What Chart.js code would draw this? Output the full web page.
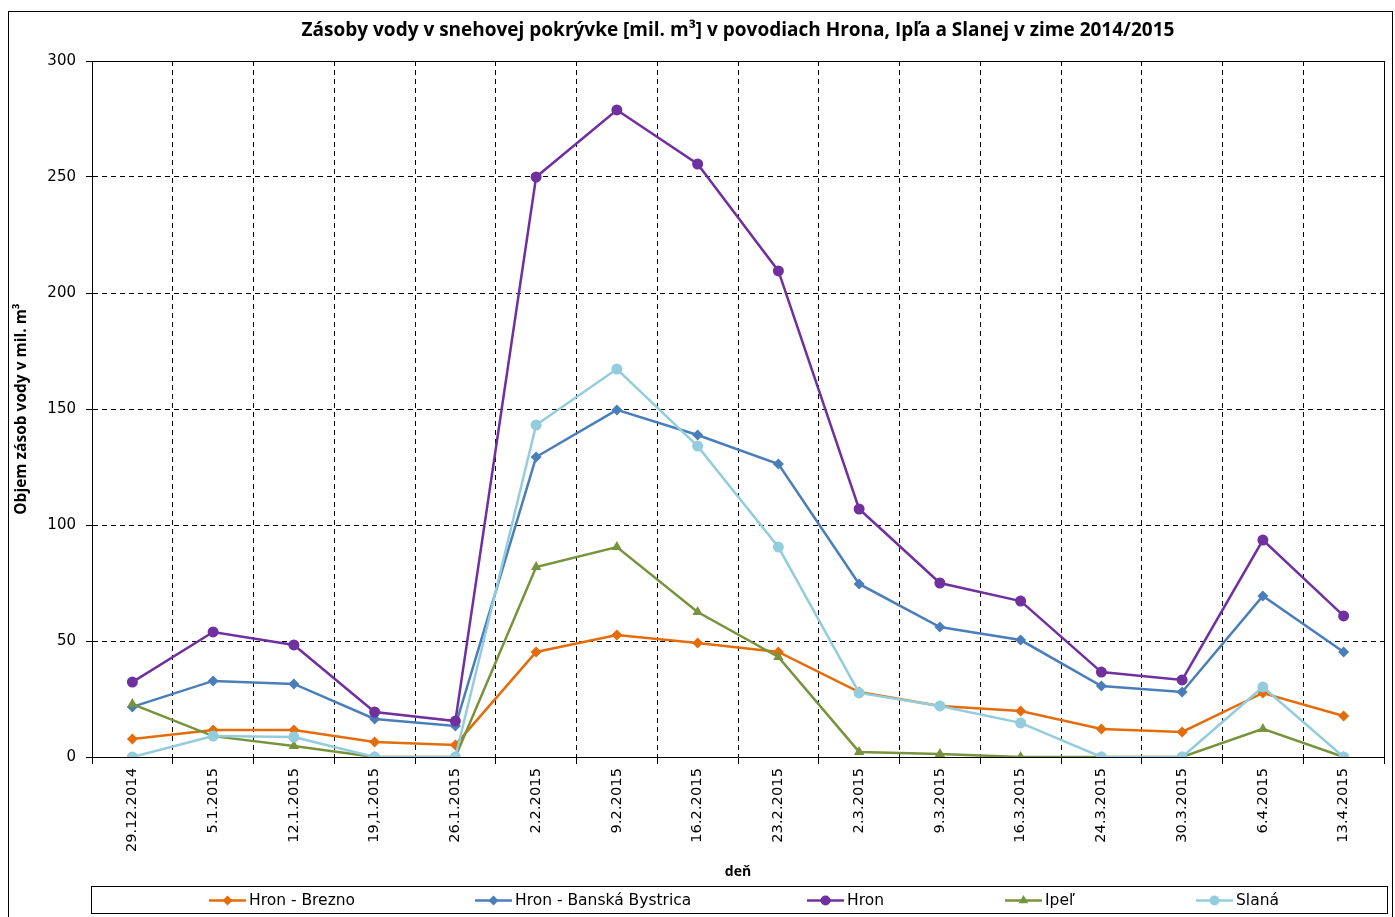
<!DOCTYPE html>
<html><head><meta charset="utf-8">
<script src="https://cdn.jsdelivr.net/npm/chart.js@4/dist/chart.umd.min.js"></script>
<style>html,body{margin:0;padding:0;background:#fff;overflow:hidden}#wrap{width:1395px;height:917px;position:relative}</style>
</head><body><div id="wrap"><canvas id="c" width="1395" height="917"></canvas></div>
<script>
const categories = ['29.12.2014','5.1.2015','12.1.2015','19,1.2015','26.1.2015','2.2.2015','9.2.2015','16.2.2015','23.2.2015','2.3.2015','9.3.2015','16.3.2015','24.3.2015','30.3.2015','6.4.2015','13.4.2015'];
const hronBrezno = [7.8, 11.6, 11.6, 6.5, 5.2, 45.3, 52.6, 49.1, 45.3, 28.0, 22.0, 19.8, 12.1, 10.8, 27.6, 17.7];
const hronBB     = [21.6, 32.8, 31.5, 16.4, 13.4, 129.3, 149.6, 138.8, 126.3, 74.6, 56.0, 50.4, 30.6, 28.0, 69.4, 45.3];
const hron       = [32.3, 53.9, 48.3, 19.4, 15.5, 250.0, 278.9, 255.6, 209.5, 106.9, 75.0, 67.2, 36.6, 33.2, 93.5, 60.8];
const ipel       = [22.8, 9.0, 4.7, 0, 0, 81.9, 90.5, 62.5, 43.1, 2.2, 1.3, 0, 0, 0, 12.1, 0];
const slana      = [0, 9.0, 8.6, 0, 0, 143.1, 167.2, 134.0, 90.5, 27.6, 22.0, 14.7, 0, 0, 30.2, 0];
const seriesNames = ['Hron - Brezno','Hron - Banská Bystrica','Hron','Ipeľ','Slaná'];
const yTicks = [0, 50, 100, 150, 200, 250, 300];

const colors = ['#E46C0A','#4A7EBB','#7030A0','#77933C','#93CDDD'];
const styles = ['rectRot','rectRot','circle','triangle','circle'];
const radii = [5.5, 5.5, 5.5, 6, 5.5];
const seriesData = [hronBrezno, hronBB, hron, ipel, slana];
const legendX = [209, 475, 807, 1005, 1196];

const datasets = seriesData.map((d,i)=>({
  label: seriesNames[i], data: d,
  borderColor: colors[i], backgroundColor: colors[i],
  pointBackgroundColor: colors[i], pointBorderColor: colors[i],
  pointStyle: styles[i], pointRadius: radii[i], pointBorderWidth: 0,
  borderWidth: 2.5, tension: 0, order: 5 - i
}));

const decor = {
  id: 'decor',
  beforeDraw(chart){
    const ctx = chart.ctx;
    ctx.save();
    ctx.fillStyle = '#fff'; ctx.fillRect(0,0,chart.width,chart.height);
    ctx.strokeStyle = '#000'; ctx.lineWidth = 1;
    ctx.strokeRect(8.5, 11.5, 1384, 920);
    ctx.restore();
  },
  afterLayout(chart){
    const a = chart.chartArea;
    if (chart.titleBlock){ chart.titleBlock.left = a.left; chart.titleBlock.right = a.right; }
  },
  beforeDatasetsDraw(chart){
    const ctx = chart.ctx, a = chart.chartArea;
    ctx.save();
    ctx.strokeStyle = '#000'; ctx.lineWidth = 1; ctx.setLineDash([]);
    ctx.beginPath();
    ctx.moveTo(Math.round(a.left)+0.5, Math.round(a.top)+0.5);
    ctx.lineTo(Math.round(a.right)+0.5, Math.round(a.top)+0.5);
    ctx.lineTo(Math.round(a.right)+0.5, Math.round(a.bottom)+0.5);
    ctx.stroke();
    ctx.restore();
  },
  afterDraw(chart){
    const ctx = chart.ctx;
    ctx.save();
    ctx.strokeStyle = '#000'; ctx.lineWidth = 1; ctx.setLineDash([]);
    ctx.strokeRect(91.5, 886.5, 1296, 27);
    const cy = 900.5;
    chart.data.datasets.forEach((ds,i)=>{
      const x0 = legendX[i];
      ctx.strokeStyle = ds.borderColor; ctx.lineWidth = 2.5;
      ctx.beginPath(); ctx.moveTo(x0, cy); ctx.lineTo(x0+37, cy); ctx.stroke();
      ctx.fillStyle = ds.pointBackgroundColor; ctx.strokeStyle = ds.pointBorderColor;
      Chart.helpers.drawPoint(ctx, {pointStyle: ds.pointStyle, radius: ds.pointRadius-0.5, rotation: 0, borderWidth: 0}, x0+18.5, cy);
      ctx.fillStyle = '#000';
      ctx.font = '15.5px "DejaVu Sans"';
      ctx.textBaseline = 'middle'; ctx.textAlign = 'left';
      ctx.fillText(ds.label, x0+40, cy);
    });
    ctx.restore();
  }
};

new Chart(document.getElementById('c'), {
  type: 'line',
  data: { labels: categories, datasets },
  plugins: [decor],
  options: {
    responsive: false, animation: false, devicePixelRatio: 1,
    layout: { padding: { left: 0, right: 11, top: 12, bottom: 31 } },
    plugins: {
      legend: { display: false },
      tooltip: { enabled: false },
      title: {
        display: true,
        text: 'Zásoby vody v snehovej pokrývke [mil. m³] v povodiach Hrona, Ipľa a Slanej v zime 2014/2015',
        color: '#000', font: { family: '"Open Sans"', size: 19, weight: 'bold', lineHeight: 1.2 },
        padding: { top: 7.6, bottom: 18.6 }
      }
    },
    scales: {
      x: {
        type: 'category', offset: true,
        grid: { offset: true, color: '#000', lineWidth: 1, drawTicks: true, tickLength: 7, tickColor: '#000', tickBorderDash: [] },
        border: { display: true, color: '#000', width: 1, dash: [5,4] },
        ticks: { autoSkip: false, maxRotation: 90, minRotation: 90, padding: 4, color: '#000', font: { family: '"DejaVu Sans"', size: 14.7 } },
        title: { display: true, text: 'deň', color: '#000', font: { family: '"Open Sans"', size: 14, weight: 'bold' }, padding: { top: 0, bottom: 5.6 } },
        afterFit(s){ s.height = 129; }
      },
      y: {
        min: 0, max: 300,
        afterBuildTicks(s){ s.ticks = yTicks.map(v=>({value: v})); },
        grid: { color: '#000', lineWidth: 1, drawTicks: true, tickLength: 6, tickColor: '#000', tickBorderDash: [] },
        border: { display: true, color: '#000', width: 1, dash: [5,4] },
        ticks: { padding: 10, color: '#000', font: { family: '"DejaVu Sans"', size: 15 } },
        title: { display: true, text: 'Objem zásob vody v mil. m³', color: '#000', font: { family: '"Open Sans"', size: 15.5, weight: 'bold' }, padding: { top: 12.7, bottom: 0 } },
        afterFit(s){ s.width = 92; }
      }
    }
  }
});
</script></body></html>
